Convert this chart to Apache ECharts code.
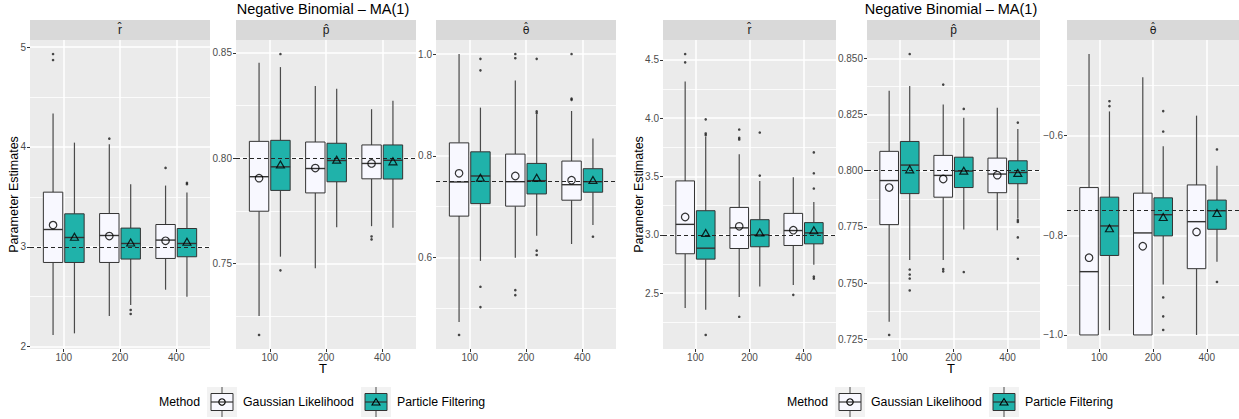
<!DOCTYPE html>
<html>
<head>
<meta charset="utf-8">
<title>Negative Binomial – MA(1)</title>
<script src="https://cdn.jsdelivr.net/npm/echarts@6/dist/echarts.min.js"></script>
<style>
  html, body { margin: 0; padding: 0; background: #ffffff; }
  #chart { width: 1239px; height: 419px; }
</style>
</head>
<body>
<div id="chart"></div>
<script>
// Sample sizes on the x axis
const T_LABELS = ['100', '200', '400'];

// Box summaries per T: [lower whisker, Q1, median, Q3, upper whisker]
// ---- Model A (theta = 0.75) ----
const A_R_GL_BOX = [[2.117, 2.843, 3.173, 3.547, 4.334], [2.307, 2.843, 3.113, 3.333, 4.027], [2.570, 2.883, 3.067, 3.223, 3.613]];
const A_R_GL_MEAN = [3.217, 3.107, 3.060];
const A_R_GL_OUT = [[4.93, 4.87], [4.083], [3.79]];
const A_R_PF_BOX = [[2.133, 2.843, 3.093, 3.330, 4.043], [2.417, 2.877, 3.033, 3.187, 3.627], [2.500, 2.900, 3.033, 3.183, 3.543]];
const A_R_PF_MEAN = [3.100, 3.043, 3.050];
const A_R_PF_OUT = [[], [2.367, 2.327], [3.64, 3.627]];

const A_P_GL_BOX = [[0.7250, 0.7748, 0.7912, 0.8080, 0.8454], [0.7477, 0.7835, 0.7951, 0.8077, 0.8343], [0.7677, 0.7902, 0.7975, 0.8063, 0.8233]];
const A_P_GL_MEAN = [0.7905, 0.7953, 0.7975];
const A_P_GL_OUT = [[0.716], [], [0.7628, 0.7614]];
const A_P_PF_BOX = [[0.7532, 0.7847, 0.7959, 0.8085, 0.8433], [0.7672, 0.7888, 0.7989, 0.8071, 0.8330], [0.7669, 0.7901, 0.7990, 0.8063, 0.8273]];
const A_P_PF_MEAN = [0.7970, 0.7993, 0.7985];
const A_P_PF_OUT = [[0.8495, 0.7467], [], []];

const A_TH_GL_BOX = [[0.4732, 0.6814, 0.7485, 0.8254, 1.0000], [0.5998, 0.7010, 0.7491, 0.8033, 0.9480], [0.6266, 0.7127, 0.7432, 0.7896, 0.8880]];
const A_TH_GL_MEAN = [0.7655, 0.7603, 0.7520];
const A_TH_GL_OUT = [[0.4478], [1.0, 0.9918, 0.5358, 0.526], [1.0, 0.9123, 0.910]];
const A_TH_PF_BOX = [[0.5933, 0.7060, 0.7603, 0.8078, 0.8947], [0.6429, 0.7250, 0.7511, 0.7850, 0.8816], [0.6638, 0.7284, 0.7491, 0.7746, 0.8340]];
const A_TH_PF_MEAN = [0.7570, 0.7570, 0.7525];
const A_TH_PF_OUT = [[0.9906, 0.968, 0.5425, 0.5026], [0.9906, 0.8875, 0.884, 0.6135, 0.605], [0.6409]];

// ---- Model B (theta = -0.75) ----
const B_R_GL_BOX = [[2.372, 2.838, 3.090, 3.4625, 4.314], [2.468, 2.883, 3.060, 3.235, 3.690], [2.571, 2.909, 3.037, 3.184, 3.494]];
const B_R_GL_MEAN = [3.153, 3.073, 3.040];
const B_R_GL_OUT = [[4.55, 4.479], [3.903, 3.831, 3.817, 2.298], [2.486]];
const B_R_PF_BOX = [[2.358, 2.792, 2.886, 3.207, 3.840], [2.557, 2.898, 3.000, 3.130, 3.4625], [2.744, 2.923, 3.017, 3.105, 3.281]];
const B_R_PF_MEAN = [3.017, 3.020, 3.040];
const B_R_PF_OUT = [[3.99, 3.869, 3.855, 2.142], [3.877, 3.508], [3.707, 3.528, 3.397, 2.642, 2.625]];

const B_P_GL_BOX = [[0.7328, 0.7760, 0.7956, 0.8086, 0.8356], [0.7603, 0.7882, 0.7979, 0.8068, 0.8294], [0.7735, 0.7902, 0.7985, 0.8056, 0.8280]];
const B_P_GL_MEAN = [0.7925, 0.7963, 0.7980];
const B_P_GL_OUT = [[0.7269], [0.8383, 0.7562, 0.7552], []];
const B_P_PF_BOX = [[0.7602, 0.7898, 0.8025, 0.8130, 0.8377], [0.7738, 0.7925, 0.7998, 0.8060, 0.8235], [0.7787, 0.7942, 0.7992, 0.8044, 0.8185]];
const B_P_PF_MEAN = [0.8006, 0.8000, 0.7990];
const B_P_PF_OUT = [[0.8519, 0.756, 0.7538, 0.752, 0.7467], [0.8275, 0.7549], [0.8214, 0.778, 0.7772, 0.7703, 0.7608]];

const B_TH_GL_BOX = [[-1.0000, -1.0000, -0.8730, -0.7043, -0.4364], [-1.0000, -1.0000, -0.7953, -0.7155, -0.4830], [-1.0000, -0.8670, -0.7727, -0.6990, -0.5600]];
const B_TH_GL_MEAN = [-0.845, -0.822, -0.7933];
const B_TH_GL_OUT = [[], [], []];
const B_TH_PF_BOX = [[-0.9906, -0.8405, -0.7813, -0.7235, -0.5515], [-0.8990, -0.8013, -0.7587, -0.7249, -0.6212], [-0.8530, -0.7880, -0.7508, -0.7294, -0.6605]];
const B_TH_PF_MEAN = [-0.786, -0.7633, -0.7553];
const B_TH_PF_OUT = [[-0.531, -0.541], [-0.5508, -0.5919, -0.9248, -0.9627, -0.99], [-0.6278, -0.8937]];

// True parameter values (dashed reference lines)
const TRUE_A = [3, 0.8, 0.75];
const TRUE_B = [3, 0.8, -0.75];

// Y tick values and their labels
const A_R_TICKS = [2, 3, 4, 5];             const A_R_TICK_LABELS = ['2', '3', '4', '5'];
const A_P_TICKS = [0.75, 0.80, 0.85];       const A_P_TICK_LABELS = ['0.75', '0.80', '0.85'];
const A_TH_TICKS = [0.6, 0.8, 1.0];         const A_TH_TICK_LABELS = ['0.6', '0.8', '1.0'];
const B_R_TICKS = [2.5, 3.0, 3.5, 4.0, 4.5]; const B_R_TICK_LABELS = ['2.5', '3.0', '3.5', '4.0', '4.5'];
const B_P_TICKS = [0.725, 0.75, 0.775, 0.8, 0.825, 0.85];
const B_P_TICK_LABELS = ['0.725', '0.750', '0.775', '0.800', '0.825', '0.850'];
const B_TH_TICKS = [-1.0, -0.8, -0.6];      const B_TH_TICK_LABELS = ['\u22121.0', '\u22120.8', '\u22120.6'];

// Facet labels: estimated parameters
const STRIP_LABELS = ['r\u0302', 'p\u0302', '\u03B8\u0302'];
const METHODS = ['Gaussian Likelihood', 'Particle Filtering'];

// ---------------------------------------------------------------
const FONT = "'Liberation Sans', Arial, Helvetica, sans-serif";
const STRIP_FONTS = [FONT, FONT, "'DejaVu Sans', sans-serif"];
const STRIP_SIZES = [12, 12, 11];
const GL_FILL = '#F8F8FF';
const PF_FILL = '#20B2AA';
const WHISKER_COLOR = '#4a4a4a';
const DODGE = 0.19;     // half distance between the two boxes of one T
const BOX_W = 0.345;    // box width in x units
const PLOT_TOP = 40;
const PLOT_H = 309;

const PANELS = [
  { left: 30,   width: 180, strip: 0, truth: TRUE_A[0], ticks: A_R_TICKS,  labels: A_R_TICK_LABELS,
    gl: [A_R_GL_BOX, A_R_GL_MEAN, A_R_GL_OUT],   pf: [A_R_PF_BOX, A_R_PF_MEAN, A_R_PF_OUT] },
  { left: 236,  width: 180, strip: 1, truth: TRUE_A[1], ticks: A_P_TICKS,  labels: A_P_TICK_LABELS,
    gl: [A_P_GL_BOX, A_P_GL_MEAN, A_P_GL_OUT],   pf: [A_P_PF_BOX, A_P_PF_MEAN, A_P_PF_OUT] },
  { left: 436,  width: 180, strip: 2, truth: TRUE_A[2], ticks: A_TH_TICKS, labels: A_TH_TICK_LABELS,
    gl: [A_TH_GL_BOX, A_TH_GL_MEAN, A_TH_GL_OUT], pf: [A_TH_PF_BOX, A_TH_PF_MEAN, A_TH_PF_OUT] },
  { left: 663,  width: 173, strip: 0, truth: TRUE_B[0], ticks: B_R_TICKS,  labels: B_R_TICK_LABELS,
    gl: [B_R_GL_BOX, B_R_GL_MEAN, B_R_GL_OUT],   pf: [B_R_PF_BOX, B_R_PF_MEAN, B_R_PF_OUT] },
  { left: 867,  width: 173, strip: 1, truth: TRUE_B[1], ticks: B_P_TICKS,  labels: B_P_TICK_LABELS,
    gl: [B_P_GL_BOX, B_P_GL_MEAN, B_P_GL_OUT],   pf: [B_P_PF_BOX, B_P_PF_MEAN, B_P_PF_OUT] },
  { left: 1067, width: 172, strip: 2, truth: TRUE_B[2], ticks: B_TH_TICKS, labels: B_TH_TICK_LABELS,
    gl: [B_TH_GL_BOX, B_TH_GL_MEAN, B_TH_GL_OUT], pf: [B_TH_PF_BOX, B_TH_PF_MEAN, B_TH_PF_OUT] }
];

// y range: data range (plus reference line) expanded by 5% on each side
function yExtent(p) {
  let lo = p.truth, hi = p.truth;
  [p.gl, p.pf].forEach(([box, mean, out]) => {
    box.forEach(b => { lo = Math.min(lo, b[0]); hi = Math.max(hi, b[4]); });
    mean.forEach(m => { lo = Math.min(lo, m); hi = Math.max(hi, m); });
    out.forEach(o => o.forEach(v => { lo = Math.min(lo, v); hi = Math.max(hi, v); }));
  });
  const pad = (hi - lo) * 0.05;
  return [lo - pad, hi + pad];
}

// minor grid values halfway between major ticks (and beyond the ends)
function minorValues(ticks, ext) {
  const step = ticks[1] - ticks[0];
  const res = [];
  for (let v = ticks[0] - step / 2; v <= ticks[ticks.length - 1] + step; v += step) {
    const r = Math.round(v * 1e6) / 1e6;
    if (r > ext[0] && r < ext[1]) res.push(r);
  }
  return res;
}

function boxRenderer(fill) {
  return function (params, api) {
    const x = api.value(0);
    const lo = api.coord([x, api.value(1)]);
    const q1 = api.coord([x, api.value(2)]);
    const md = api.coord([x, api.value(3)]);
    const q3 = api.coord([x, api.value(4)]);
    const hi = api.coord([x, api.value(5)]);
    const half = api.size([BOX_W, 0])[0] / 2;
    const cx = q1[0];
    const whisker = { stroke: WHISKER_COLOR, lineWidth: 1.2 };
    return {
      type: 'group',
      children: [
        { type: 'line', shape: { x1: cx, y1: hi[1], x2: cx, y2: q3[1] }, style: whisker },
        { type: 'line', shape: { x1: cx, y1: q1[1], x2: cx, y2: lo[1] }, style: whisker },
        { type: 'rect', shape: { x: cx - half, y: q3[1], width: 2 * half, height: q1[1] - q3[1] },
          style: { fill: fill, stroke: '#333333', lineWidth: 1 } },
        { type: 'line', shape: { x1: cx - half, y1: md[1], x2: cx + half, y2: md[1] },
          style: { stroke: '#333333', lineWidth: 1.4 } }
      ]
    };
  };
}

const grids = [], xAxes = [], yAxes = [], series = [];

PANELS.forEach((p, i) => {
  const ext = yExtent(p);
  grids.push({
    left: p.left, top: PLOT_TOP, width: p.width, height: PLOT_H,
    show: true, backgroundColor: '#EBEBEB', borderWidth: 0,
    containLabel: false, outerBoundsMode: 'none'
  });
  xAxes.push({
    type: 'value', gridIndex: i, min: 0.4, max: 3.6,
    axisLine: { show: false },
    axisTick: { show: true, length: 3, customValues: [1, 2, 3], lineStyle: { color: '#333333', width: 1 } },
    axisLabel: { customValues: [1, 2, 3], formatter: v => T_LABELS[Math.round(v) - 1],
                 color: '#4D4D4D', fontSize: 10, fontFamily: FONT, margin: 3 },
    splitLine: { show: true, lineStyle: { color: '#FFFFFF', width: 1.5 } }
  });
  yAxes.push({
    type: 'value', gridIndex: i, min: ext[0], max: ext[1],
    axisLine: { show: false },
    axisTick: { show: true, length: 3, customValues: p.ticks, lineStyle: { color: '#333333', width: 1 } },
    axisLabel: {
      customValues: p.ticks, color: '#4D4D4D', fontSize: 10, fontFamily: FONT, margin: 4,
      formatter: v => { const k = p.ticks.findIndex(t => Math.abs(t - v) < 1e-9); return k >= 0 ? p.labels[k] : ''; }
    },
    splitLine: { show: true, lineStyle: { color: '#FFFFFF', width: 1.5 } },
    z: 1
  });
  const minors = minorValues(p.ticks, ext);
  yAxes.push({
    type: 'value', gridIndex: i, min: ext[0], max: ext[1],
    axisLine: { show: false },
    axisTick: { show: false, customValues: minors },
    axisLabel: { show: false, customValues: minors },
    splitLine: { show: true, lineStyle: { color: '#FFFFFF', width: 0.8 } },
    z: 0
  });

  const yIdx = 2 * i;
  [[p.gl, -DODGE, GL_FILL, 'circle'], [p.pf, DODGE, PF_FILL, 'triangle']].forEach(([m, off, fill, sym], mi) => {
    const [box, mean, out] = m;
    series.push({
      type: 'custom', name: METHODS[mi], xAxisIndex: i, yAxisIndex: yIdx, z: 2,
      renderItem: boxRenderer(fill),
      encode: { x: 0, y: [1, 2, 3, 4, 5] },
      data: box.map((b, k) => [k + 1 + off].concat(b)),
      silent: true
    });
    const pts = [];
    out.forEach((o, k) => o.forEach(v => pts.push([k + 1 + off, v])));
    series.push({
      type: 'scatter', xAxisIndex: i, yAxisIndex: yIdx, z: 3,
      symbol: 'circle', symbolSize: 2.6,
      itemStyle: { color: '#1A1A1A' },
      data: pts, silent: true
    });
    series.push({
      type: 'scatter', xAxisIndex: i, yAxisIndex: yIdx, z: 5,
      symbol: sym, symbolSize: sym === 'triangle' ? [8, 7] : 7.5,
      itemStyle: { color: 'rgba(0,0,0,0)', borderColor: '#000000', borderWidth: 1.2 },
      data: mean.map((v, k) => [k + 1 + off, v]), silent: true
    });
  });
  // reference line at the true parameter value
  series.push({
    type: 'line', xAxisIndex: i, yAxisIndex: yIdx, z: 4, data: [], silent: true,
    markLine: {
      silent: true, symbol: ['none', 'none'], label: { show: false }, animation: false,
      lineStyle: { type: [4, 3], color: '#262626', width: 1.1 },
      data: [{ yAxis: p.truth }]
    }
  });
});

// strips, titles, axis titles, legend
const graphics = [];
PANELS.forEach(p => {
  graphics.push({ type: 'rect', shape: { x: p.left, y: 20, width: p.width, height: 20 }, style: { fill: '#D9D9D9' }, silent: true });
  graphics.push({ type: 'text', x: p.left + p.width / 2, y: 30,
    style: { text: STRIP_LABELS[p.strip], font: STRIP_SIZES[p.strip] + 'px ' + STRIP_FONTS[p.strip], fill: '#1A1A1A',
             align: 'center', verticalAlign: 'middle', textAlign: 'center', textVerticalAlign: 'middle' } });
});

function addText(str, x, y, size, opts) {
  const o = opts || {};
  graphics.push({ type: 'text', x: x, y: y, rotation: o.rotation || 0,
    style: { text: str, font: size + 'px ' + FONT, fill: o.fill || '#000000',
             align: o.align || 'center', verticalAlign: 'middle',
             textAlign: o.align || 'center', textVerticalAlign: 'middle' } });
}

function legendKey(x0, y0, fill, sym) {
  const cx = x0 + 15;
  const children = [
    { type: 'rect', shape: { x: x0, y: y0, width: 30, height: 30 }, style: { fill: '#F2F2F2' } },
    { type: 'line', shape: { x1: cx, y1: y0, x2: cx, y2: y0 + 6.5 }, style: { stroke: WHISKER_COLOR, lineWidth: 1 } },
    { type: 'line', shape: { x1: cx, y1: y0 + 23.5, x2: cx, y2: y0 + 30 }, style: { stroke: WHISKER_COLOR, lineWidth: 1 } },
    { type: 'rect', shape: { x: x0 + 4, y: y0 + 6.5, width: 22, height: 17 }, style: { fill: fill, stroke: '#333333', lineWidth: 1 } },
    { type: 'line', shape: { x1: x0 + 4, y1: y0 + 15, x2: x0 + 26, y2: y0 + 15 }, style: { stroke: '#333333', lineWidth: 1.2 } }
  ];
  if (sym === 'circle') {
    children.push({ type: 'circle', shape: { cx: cx, cy: y0 + 15, r: 3.2 }, style: { fill: 'none', stroke: '#000', lineWidth: 1.1 } });
  } else {
    children.push({ type: 'polygon', shape: { points: [[cx, y0 + 11.5], [cx - 4, y0 + 18], [cx + 4, y0 + 18]] },
                    style: { fill: 'none', stroke: '#000', lineWidth: 1.1 } });
  }
  graphics.push({ type: 'group', children: children, silent: true });
}

[{ center: 323, yTitleX: 14, legendX: 159 }, { center: 951, yTitleX: 639, legendX: 787 }].forEach(f => {
  addText('Negative Binomial \u2013 MA(1)', f.center, 9, 14.5);
  addText('T', f.center, 368, 13);
  addText('Parameter Estimates', f.yTitleX, 194.5, 12.5, { rotation: Math.PI / 2 });
  addText('Method', f.legendX, 402, 12.3, { align: 'left' });
  legendKey(f.legendX + 48, 387, GL_FILL, 'circle');
  addText(METHODS[0], f.legendX + 84, 402, 12.3, { align: 'left' });
  legendKey(f.legendX + 202, 387, PF_FILL, 'triangle');
  addText(METHODS[1], f.legendX + 238, 402, 12.3, { align: 'left' });
});

const chart = echarts.init(document.getElementById('chart'), null, { renderer: 'svg' });
chart.setOption({
  animation: false,
  backgroundColor: '#FFFFFF',
  textStyle: { fontFamily: FONT },
  grid: grids,
  xAxis: xAxes,
  yAxis: yAxes,
  series: series,
  graphic: graphics
});
</script>
</body>
</html>
